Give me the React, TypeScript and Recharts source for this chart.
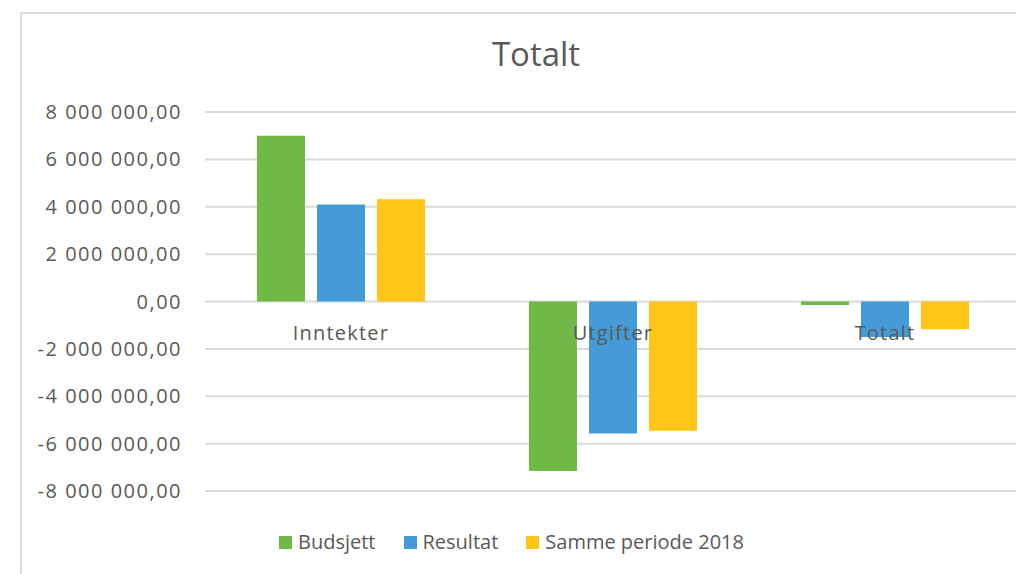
import React from "react";
import { BarChart, Bar, XAxis, YAxis, CartesianGrid, Legend } from "recharts";

const categories = ["Inntekter", "Utgifter", "Totalt"];
const budsjett = [7000000, -7160000, -150000];
const resultat = [4100000, -5570000, -1500000];
const samme2018 = [4320000, -5460000, -1170000];
const yTicks = [8000000, 6000000, 4000000, 2000000, 0, -2000000, -4000000, -6000000, -8000000];

const seriesInfo = [
  { key: "budsjett", name: "Budsjett", color: "#70B847" },
  { key: "resultat", name: "Resultat", color: "#459BD5" },
  { key: "samme2018", name: "Samme periode 2018", color: "#FFC519" },
];

const data = categories.map((c, i) => ({
  name: c,
  budsjett: budsjett[i],
  resultat: resultat[i],
  samme2018: samme2018[i],
}));

const TEXT = "#595959";
const FONT = "'Open Sans', 'Liberation Sans', sans-serif";
const PLOT_H = 379;

function fmt(v: number): string {
  const neg = v < 0;
  const s = Math.abs(Math.round(v)).toString();
  const parts: string[] = [];
  for (let i = s.length; i > 0; i -= 3) parts.unshift(s.slice(Math.max(0, i - 3), i));
  return (neg ? "-" : "") + parts.join(" ") + ",00";
}

const CatTick = (props: any) => {
  const { x, y, payload } = props;
  return (
    <text x={x} y={y - PLOT_H / 2 + 36} textAnchor="middle" fill={TEXT} fontSize={20} fontFamily={FONT} letterSpacing={1.2}>
      {payload.value}
    </text>
  );
};

const YTick = (props: any) => {
  const { x, y, payload } = props;
  return (
    <text x={x} y={y} dy="0.355em" textAnchor="end" fill={TEXT} fontSize={20} fontFamily={FONT} letterSpacing={1.5}>
      {fmt(payload.value)}
    </text>
  );
};

const LegendContent = () => (
  <div style={{ display: "flex", alignItems: "center", fontFamily: FONT, fontSize: 20, color: TEXT, lineHeight: "28px", whiteSpace: "nowrap" }}>
    {seriesInfo.map((s, i) => (
      <div key={s.key} style={{ display: "flex", alignItems: "center", marginRight: i < seriesInfo.length - 1 ? 28 : 0 }}>
        <span style={{ display: "inline-block", width: 13, height: 13, background: s.color, marginRight: 6 }} />
        <span>{s.name}</span>
      </div>
    ))}
  </div>
);

export default function App() {
  return (
    <div style={{ position: "relative", width: 1016, height: 566, overflow: "hidden", background: "#fff" }}>
      <div style={{ position: "absolute", left: 12, top: 4, width: 1100, height: 700, border: "2px solid #D9DBDD", boxSizing: "border-box" }} />
      <div style={{ position: "absolute", left: 0, width: 1056, top: 26, textAlign: "center", fontFamily: FONT, fontSize: 33, lineHeight: "40px", color: TEXT }}>
        Totalt
      </div>
      <div style={{ position: "absolute", left: 0, top: 0 }}>
        <BarChart width={1016} height={566} data={data} margin={{ top: 104, right: 3, left: 0, bottom: 53 }} barSize={48} barGap={12}>
          <CartesianGrid vertical={false} stroke="#D9D9D9" strokeWidth={2} />
          <XAxis dataKey="name" height={30} axisLine={false} tickLine={false} tickSize={0} tick={<CatTick />} interval={0} />
          <YAxis
            width={197}
            domain={[-8000000, 8000000]}
            ticks={yTicks}
            interval={0}
            axisLine={false}
            tickLine={false}
            tickSize={0}
            tickMargin={23}
            tick={<YTick />}
          />
          <Legend
            layout="horizontal"
            verticalAlign="middle"
            align="center"
            content={<LegendContent />}
            wrapperStyle={{ left: 271, top: 520, width: "auto", bottom: "auto" }}
          />
          {seriesInfo.map((s) => (
            <Bar key={s.key} dataKey={s.key} name={s.name} fill={s.color} isAnimationActive={false} />
          ))}
        </BarChart>
      </div>
    </div>
  );
}
